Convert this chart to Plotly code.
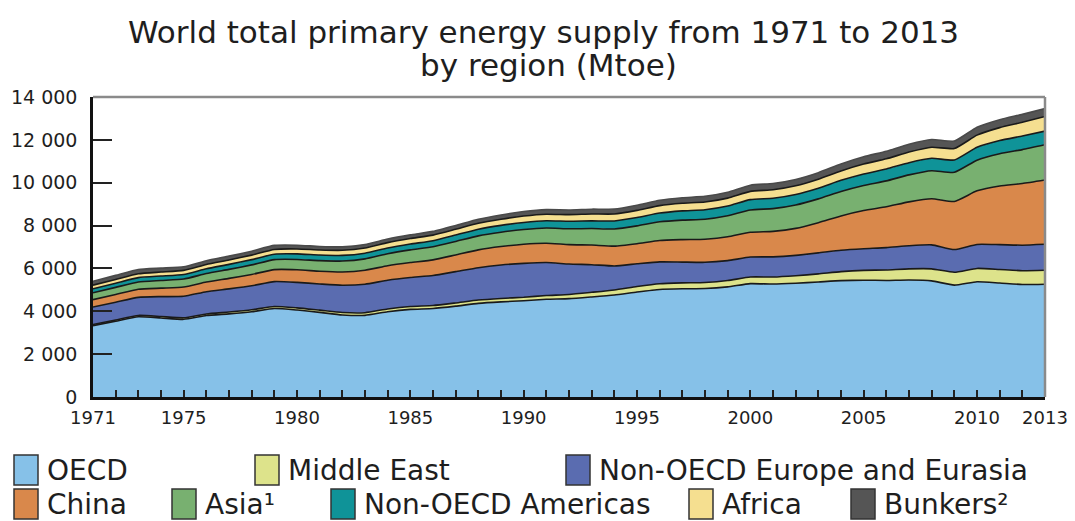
import plotly.graph_objects as go

years = list(range(1971, 2014))

series_names = ["OECD", "Middle East", "Non-OECD Europe and Eurasia", "China",
                "Asia¹", "Non-OECD Americas", "Africa", "Bunkers²"]
series_colors = ["#86C1E8", "#DDE38B", "#5A6CB0", "#D9884B",
                 "#78B070", "#0F9398", "#F5DF90", "#555555"]

oecd = [3330, 3540, 3745, 3690, 3625, 3800, 3880, 3980, 4130, 4060,
        3950, 3830, 3810, 3980, 4090, 4130, 4240, 4370, 4440, 4490,
        4560, 4590, 4670, 4760, 4900, 5020, 5050, 5060, 5140, 5290,
        5270, 5310, 5370, 5430, 5450, 5440, 5460, 5420, 5220, 5380,
        5320, 5250, 5265]
middle_east = [50, 55, 60, 65, 70, 75, 85, 90, 95, 100,
               105, 115, 125, 130, 135, 140, 150, 155, 160, 165,
               175, 195, 215, 235, 255, 265, 275, 285, 295, 310,
               330, 350, 375, 420, 460, 490, 520, 560, 600, 620,
               630, 645, 650]
non_oecd_europe = [820, 830, 845, 930, 1005, 1040, 1080, 1120, 1160, 1190,
                   1220, 1270, 1330, 1340, 1350, 1400, 1460, 1510, 1560, 1580,
                   1540, 1420, 1290, 1120, 1060, 1020, 970, 940, 930, 930,
                   940, 950, 980, 1000, 1010, 1040, 1080, 1120, 1060, 1120,
                   1160, 1190, 1210]
china = [345, 360, 375, 395, 433, 450, 490, 530, 560, 590,
         595, 620, 650, 675, 700, 730, 780, 830, 860, 895,
         900, 905, 915, 925, 940, 1000, 1050, 1080, 1110, 1160,
         1190, 1260, 1410, 1600, 1780, 1905, 2045, 2150, 2245, 2500,
         2740, 2880, 3005]
asia = [320, 330, 340, 355, 370, 395, 420, 445, 465, 480,
        495, 510, 530, 560, 590, 610, 630, 655, 670, 685,
        710, 740, 770, 800, 830, 870, 910, 930, 980, 1040,
        1060, 1090, 1110, 1140, 1170, 1210, 1260, 1310, 1360, 1430,
        1500, 1580, 1640]
non_oecd_americas = [185, 195, 205, 210, 215, 225, 235, 245, 255, 260,
                     260, 262, 265, 270, 275, 285, 300, 310, 320, 330,
                     340, 350, 360, 375, 390, 410, 430, 445, 455, 480,
                     485, 490, 500, 520, 540, 555, 570, 580, 575, 605,
                     620, 635, 640]
africa = [170, 175, 180, 185, 190, 200, 205, 210, 220, 230,
          235, 240, 245, 250, 255, 260, 265, 275, 285, 300,
          305, 310, 320, 325, 335, 345, 355, 360, 370, 385,
          395, 405, 420, 440, 460, 475, 495, 515, 535, 565,
          600, 640, 680]
bunkers = [180, 190, 200, 185, 170, 175, 180, 185, 190, 175,
           165, 160, 160, 165, 170, 175, 180, 190, 200, 210,
           215, 220, 225, 230, 240, 250, 260, 265, 275, 290,
           290, 295, 305, 325, 340, 355, 365, 360, 350, 365,
           370, 370, 370]

series_values = [oecd, middle_east, non_oecd_europe, china, asia,
                 non_oecd_americas, africa, bunkers]

y_tickvals = [0, 2000, 4000, 6000, 8000, 10000, 12000, 14000]
y_ticktext = ["0", "2 000", "4 000", "6 000", "8 000", "10 000", "12 000", "14 000"]
x_tickvals = [1971, 1975, 1980, 1985, 1990, 1995, 2000, 2005, 2010, 2013]
x_ticktext = [str(v) for v in x_tickvals]

title_lines = ["World total primary energy supply from 1971 to 2013", "by region (Mtoe)"]

FONT = "'DejaVu Sans', 'Open Sans', sans-serif"
TXT = "#1e1e1e"

fig = go.Figure()
for name, color, vals in zip(series_names, series_colors, series_values):
    fig.add_trace(go.Scatter(
        x=years, y=vals, name=name, stackgroup="one", mode="lines",
        line=dict(color="#1a1a1a" if name != "Bunkers²" else "#4a4a4a", width=1.6,
                  shape="spline", smoothing=0.5),
        fillcolor=color, showlegend=False,
        hovertemplate=name + " %{x}: %{y}<extra></extra>",
    ))

# page has an 8px body margin: figure coords = page coords - 8
OFF = 8
W, H = 1075 - OFF, 521 - OFF
L, R, T, B = 93 - OFF, 1045 - OFF, 97 - OFF, 397 - OFF

def px(x):  # page pixel -> paper
    return (x - OFF - L) / (R - L)

def py(y):
    return (B - (y - OFF)) / (B - T)

shapes = [
    dict(type="line", xref="paper", yref="paper", x0=0, x1=1, y0=1, y1=1,
         line=dict(color="#8a8a8a", width=2.5), layer="above"),
    dict(type="line", xref="paper", yref="paper", x0=1, x1=1, y0=0, y1=1,
         line=dict(color="#8a8a8a", width=2.5), layer="above"),
]
annotations = []

for line_text, (cx, cy) in zip(title_lines, [(543, 32), (548, 65)]):
    annotations.append(dict(text=line_text, xref="paper", yref="paper",
                            x=px(cx), y=py(cy), xanchor="center", yanchor="middle",
                            showarrow=False, font=dict(family=FONT, size=31, color=TXT)))

legend_pos = [(14, 470), (255, 470), (566, 470),
              (14, 504), (172, 504), (331, 504), (689, 504), (851, 504)]
for name, color, (bx, by) in zip(series_names, series_colors, legend_pos):
    shapes.append(dict(type="rect", xref="paper", yref="paper",
                       x0=px(bx), x1=px(bx + 24), y0=py(by - 15), y1=py(by + 15),
                       fillcolor=color, line=dict(color="#333333", width=1.5)))
    annotations.append(dict(text=name, xref="paper", yref="paper",
                            x=px(bx + 31), y=py(by), xanchor="left", yanchor="middle",
                            showarrow=False, font=dict(family=FONT, size=28, color=TXT)))

fig.update_layout(
    width=W, height=H,
    margin=dict(l=L, r=W - R, t=T, b=H - B, pad=0, autoexpand=False),
    paper_bgcolor="white", plot_bgcolor="white",
    xaxis=dict(range=[1971, 2013], tickvals=x_tickvals, ticktext=x_ticktext,
               ticks="inside", ticklen=7, tickwidth=2, tickcolor="#222",
               showline=True, linecolor="#111", linewidth=2.5,
               showgrid=False, zeroline=False, automargin=False, ticklabelstandoff=3,
               minor=dict(dtick=1, tick0=1971, ticks="inside", ticklen=7,
                          tickwidth=2, tickcolor="#222", showgrid=False),
               tickfont=dict(family=FONT, size=18, color=TXT)),
    yaxis=dict(range=[0, 14000], tickvals=y_tickvals, ticktext=y_ticktext,
               ticks="inside", ticklen=19, tickwidth=2, tickcolor="#222",
               showline=True, linecolor="#111", linewidth=2.5,
               showgrid=False, zeroline=False, automargin=False, ticklabelstandoff=9,
               tickfont=dict(family=FONT, size=19, color=TXT)),
    shapes=shapes, annotations=annotations,
)

fig.write_html("out.html")
